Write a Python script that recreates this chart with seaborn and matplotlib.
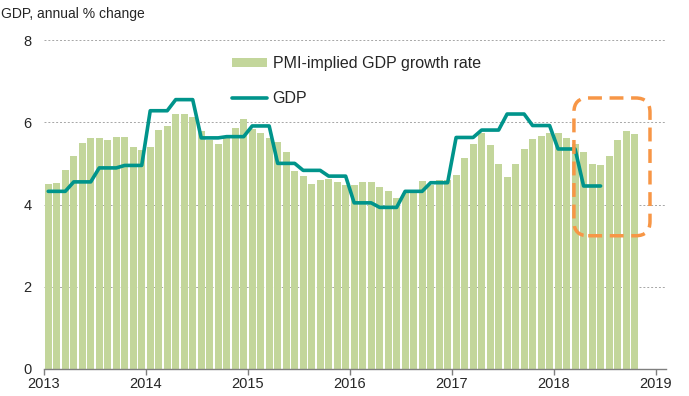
import numpy as np
import pandas as pd
import matplotlib
matplotlib.use("Agg")
import matplotlib.pyplot as plt
import seaborn as sns
from matplotlib.patches import FancyBboxPatch, Patch
from matplotlib.lines import Line2D

# ---------------- data ----------------
start_year = 2013
pmi_implied = [
    4.51, 4.53, 4.83, 5.17, 5.49, 5.61, 5.62, 5.58, 5.64, 5.64, 5.39, 5.32,   # 2013
    5.40, 5.82, 5.92, 6.20, 6.20, 6.13, 5.79, 5.56, 5.46, 5.62, 5.87, 6.07,   # 2014
    5.83, 5.75, 5.62, 5.51, 5.27, 4.81, 4.69, 4.51, 4.59, 4.63, 4.55, 4.48,   # 2015
    4.48, 4.55, 4.55, 4.42, 4.34, 4.16, 4.28, 4.28, 4.56, 4.48, 4.59, 4.59,   # 2016
    4.71, 5.12, 5.47, 5.75, 5.44, 4.98, 4.67, 4.98, 5.36, 5.60, 5.66, 5.73,   # 2017
    5.73, 5.62, 5.46, 5.28, 4.99, 4.96, 5.17, 5.57, 5.79, 5.71,               # 2018
]
gdp_quarterly = [
    4.32, 4.55, 4.89, 4.95,
    6.28, 6.55, 5.62, 5.65,
    5.91, 5.00, 4.83, 4.69,
    4.04, 3.93, 4.32, 4.53,
    5.63, 5.81, 6.20, 5.92,
    5.35, 4.45,
]
year_ticks = [2013, 2014, 2015, 2016, 2017, 2018, 2019]
y_ticks = [0, 2, 4, 6, 8]
bar_label = "PMI-implied GDP growth rate"
line_label = "GDP"
y_title = "GDP, annual % change"
highlight_x = (2018.197, 2018.943)
highlight_y = (3.24, 6.59)

# ---------------- frames ----------------
months = np.arange(len(pmi_implied))
bars_df = pd.DataFrame({"t": start_year + (months + 0.5) / 12.0, "pmi": pmi_implied})
gdp_monthly = np.repeat(gdp_quarterly, 3)
gm = np.arange(len(gdp_monthly))
gdp_df = pd.DataFrame({"t": start_year + (gm + 0.5) / 12.0, "gdp": gdp_monthly})

# ---------------- style ----------------
sns.set_style("white")
plt.rcParams["font.family"] = ["Liberation Sans", "DejaVu Sans"]

BAR_C = "#C3D69B"
LINE_C = "#00948B"
ORANGE = "#F79646"

fig = plt.figure(figsize=(6.89, 3.96), dpi=100)
ax = fig.add_axes([44 / 689, 1 - 369 / 396, (666 - 44) / 689, (369 - 40) / 396])

sns.barplot(data=bars_df, x="t", y="pmi", native_scale=True, color=BAR_C,
            saturation=1, width=0.82, ax=ax, zorder=2, linewidth=0)
sns.lineplot(data=gdp_df, x="t", y="gdp", color=LINE_C, linewidth=2.6,
             ax=ax, zorder=3)

ax.set_xlim(2013, 2019.1)
ax.set_ylim(0, 8)
ax.set_xticks(year_ticks)
ax.set_xticklabels([str(y) for y in year_ticks])
ax.set_yticks(y_ticks)
ax.set_yticklabels([str(y) for y in y_ticks])
ax.set_xlabel("")
ax.set_ylabel("")

for v in y_ticks[1:]:
    ax.axhline(v, color="#A6A6A6", lw=0.7, ls=(0, (2, 2)), zorder=1)

for s in ["top", "right", "left"]:
    ax.spines[s].set_visible(False)
ax.spines["bottom"].set_color("#7F7F7F")
ax.spines["bottom"].set_linewidth(1.0)
ax.tick_params(axis="x", length=4, width=1.0, color="#7F7F7F", labelsize=10.5,
               pad=2, direction="out", bottom=True)
ax.tick_params(axis="y", length=0, labelsize=10.5, pad=9)

# highlight box (rounded, dashed)
xw = highlight_x[1] - highlight_x[0]
yh = highlight_y[1] - highlight_y[0]
px_per_x = 622 / 6.1
px_per_y = 329 / 8.0
aspect = px_per_x / px_per_y
box = FancyBboxPatch((highlight_x[0], highlight_y[0]), xw, yh,
                     boxstyle="round,pad=0,rounding_size=0.14",
                     mutation_aspect=aspect,
                     facecolor="none", edgecolor=ORANGE, lw=2.5,
                     linestyle=(0, (4, 2.2)), zorder=4, transform=ax.transData,
                     clip_on=False)
ax.add_patch(box)

# legend
handles = [Patch(facecolor=BAR_C, edgecolor="none", label=bar_label),
           Line2D([0], [0], color=LINE_C, lw=2.6, label=line_label)]
leg = ax.legend(handles=handles, loc="upper left",
                bbox_to_anchor=(232 / 689, 1 - 56 / 396),
                bbox_transform=fig.transFigure, frameon=False,
                fontsize=11.5, handlelength=2.2, handleheight=0.45,
                handletextpad=0.35, labelspacing=1.25, borderaxespad=0,
                borderpad=0)

fig.text(1 / 689, 1 - 14 / 396, y_title, fontsize=10, ha="left", va="center")

fig.savefig("out.png", dpi=100)
